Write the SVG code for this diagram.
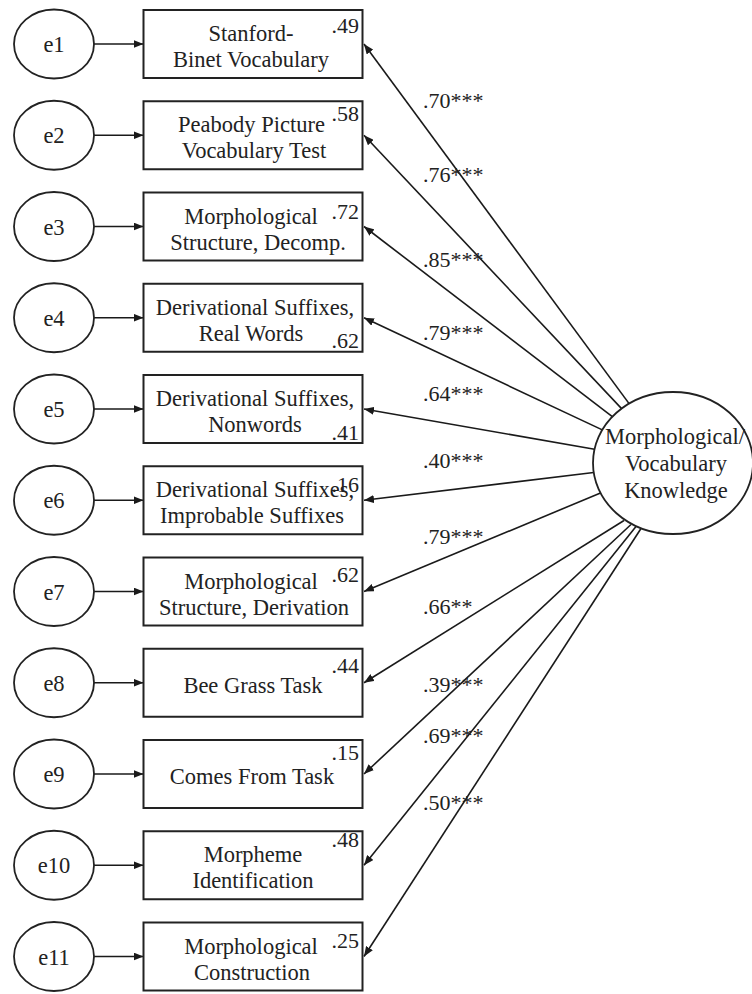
<svg xmlns="http://www.w3.org/2000/svg" width="752" height="994" viewBox="0 0 752 994">
<style>
.t{font-family:"Liberation Serif","Times New Roman",serif;font-size:22.5px;fill:#222;text-anchor:middle}
.r{font-family:"Liberation Serif","Times New Roman",serif;font-size:22px;fill:#222;text-anchor:end}
.l{font-family:"Liberation Serif","Times New Roman",serif;font-size:22px;fill:#222}
.bx{fill:#fff;stroke:#222;stroke-width:2}
.el{fill:#fff;stroke:#222;stroke-width:1.8}
.c{stroke:#1a1a1a;stroke-width:1.6;fill:none;marker-end:url(#ah)}
</style>
<defs>
<marker id="ah" viewBox="0 0 10 8" refX="10" refY="4" markerWidth="10" markerHeight="8" markerUnits="userSpaceOnUse" orient="auto"><path d="M0,0 L10,4 L0,8 z" fill="#1a1a1a"/></marker>
</defs>
<rect width="752" height="994" fill="#fff"/>
<g id="connectors">
<line class="c" x1="94" y1="44" x2="143.5" y2="44"/>
<line class="c" x1="94" y1="135.25" x2="143.5" y2="135.25"/>
<line class="c" x1="94" y1="226.5" x2="143.5" y2="226.5"/>
<line class="c" x1="94" y1="317.75" x2="143.5" y2="317.75"/>
<line class="c" x1="94" y1="409" x2="143.5" y2="409"/>
<line class="c" x1="94" y1="500.25" x2="143.5" y2="500.25"/>
<line class="c" x1="94" y1="591.5" x2="143.5" y2="591.5"/>
<line class="c" x1="94" y1="682.75" x2="143.5" y2="682.75"/>
<line class="c" x1="94" y1="774" x2="143.5" y2="774"/>
<line class="c" x1="94" y1="865.25" x2="143.5" y2="865.25"/>
<line class="c" x1="94" y1="956.5" x2="143.5" y2="956.5"/>
<line class="c" x1="629.1" y1="403.6" x2="364" y2="44"/>
<line class="c" x1="621.6" y1="408.6" x2="364" y2="135.25"/>
<line class="c" x1="612.3" y1="416.7" x2="364" y2="226.5"/>
<line class="c" x1="602.3" y1="429.9" x2="364" y2="317.75"/>
<line class="c" x1="594.5" y1="449.3" x2="364" y2="409"/>
<line class="c" x1="593.7" y1="472.5" x2="364" y2="500.25"/>
<line class="c" x1="600.5" y1="493" x2="364" y2="591.5"/>
<line class="c" x1="624" y1="520.5" x2="364" y2="682.75"/>
<line class="c" x1="631" y1="524.5" x2="364" y2="774"/>
<line class="c" x1="636" y1="526.5" x2="364" y2="865.25"/>
<line class="c" x1="641" y1="528.5" x2="364" y2="956.5"/>
</g>
<g id="loadings">
<text class="l" x="423" y="108">.70***</text>
<text class="l" x="423" y="182">.76***</text>
<text class="l" x="423" y="267">.85***</text>
<text class="l" x="423" y="340">.79***</text>
<text class="l" x="423" y="401">.64***</text>
<text class="l" x="423" y="468">.40***</text>
<text class="l" x="423" y="544">.79***</text>
<text class="l" x="423" y="614">.66**</text>
<text class="l" x="423" y="692">.39***</text>
<text class="l" x="423" y="743">.69***</text>
<text class="l" x="423" y="810">.50***</text>
</g>
<g id="e1"><ellipse class="el" cx="54" cy="44" rx="40" ry="34.5"/><text class="t" x="54" y="52">e1</text></g>
<g id="e2"><ellipse class="el" cx="54" cy="135.25" rx="40" ry="34.5"/><text class="t" x="54" y="143.25">e2</text></g>
<g id="e3"><ellipse class="el" cx="54" cy="226.5" rx="40" ry="34.5"/><text class="t" x="54" y="234.5">e3</text></g>
<g id="e4"><ellipse class="el" cx="54" cy="317.75" rx="40" ry="34.5"/><text class="t" x="54" y="325.75">e4</text></g>
<g id="e5"><ellipse class="el" cx="54" cy="409" rx="40" ry="34.5"/><text class="t" x="54" y="417">e5</text></g>
<g id="e6"><ellipse class="el" cx="54" cy="500.25" rx="40" ry="34.5"/><text class="t" x="54" y="508.25">e6</text></g>
<g id="e7"><ellipse class="el" cx="54" cy="591.5" rx="40" ry="34.5"/><text class="t" x="54" y="599.5">e7</text></g>
<g id="e8"><ellipse class="el" cx="54" cy="682.75" rx="40" ry="34.5"/><text class="t" x="54" y="690.75">e8</text></g>
<g id="e9"><ellipse class="el" cx="54" cy="774" rx="40" ry="34.5"/><text class="t" x="54" y="782">e9</text></g>
<g id="e10"><ellipse class="el" cx="54" cy="865.25" rx="40" ry="34.5"/><text class="t" x="54" y="873.25">e10</text></g>
<g id="e11"><ellipse class="el" cx="54" cy="956.5" rx="40" ry="34.5"/><text class="t" x="54" y="964.5">e11</text></g>
<g id="box1"><rect class="bx" x="143.5" y="10" width="219" height="68"/><text class="t" x="251" y="41">Stanford-</text><text class="t" x="251" y="67">Binet Vocabulary</text><text class="r" x="359" y="33">.49</text></g>
<g id="box2"><rect class="bx" x="143.5" y="101.25" width="219" height="68"/><text class="t" x="251.5" y="132.25">Peabody Picture</text><text class="t" x="254" y="158.25">Vocabulary Test</text><text class="r" x="359" y="121">.58</text></g>
<g id="box3"><rect class="bx" x="143.5" y="192.5" width="219" height="68"/><text class="t" x="251" y="223.5">Morphological</text><text class="t" x="258" y="249.5">Structure, Decomp.</text><text class="r" x="359" y="219">.72</text></g>
<g id="box4"><rect class="bx" x="143.5" y="283.75" width="219" height="68"/><text class="t" x="255" y="314.75">Derivational Suffixes,</text><text class="t" x="251" y="340.75">Real Words</text><text class="r" x="359" y="348">.62</text></g>
<g id="box5"><rect class="bx" x="143.5" y="375" width="219" height="68"/><text class="t" x="255" y="406">Derivational Suffixes,</text><text class="t" x="255" y="432">Nonwords</text><text class="r" x="359" y="440">.41</text></g>
<g id="box6"><rect class="bx" x="143.5" y="466.25" width="219" height="68"/><text class="t" x="255" y="497.25">Derivational Suffixes,</text><text class="t" x="252" y="523.25">Improbable Suffixes</text><text class="r" x="359" y="492">.16</text></g>
<g id="box7"><rect class="bx" x="143.5" y="557.5" width="219" height="68"/><text class="t" x="251" y="588.5">Morphological</text><text class="t" x="254" y="614.5">Structure, Derivation</text><text class="r" x="359" y="582">.62</text></g>
<g id="box8"><rect class="bx" x="143.5" y="648.75" width="219" height="68"/><text class="t" x="253" y="692.75">Bee Grass Task</text><text class="r" x="359" y="673">.44</text></g>
<g id="box9"><rect class="bx" x="143.5" y="740" width="219" height="68"/><text class="t" x="252" y="784">Comes From Task</text><text class="r" x="359" y="760">.15</text></g>
<g id="box10"><rect class="bx" x="143.5" y="831.25" width="219" height="68"/><text class="t" x="253" y="862.25">Morpheme</text><text class="t" x="253" y="888.25">Identification</text><text class="r" x="359" y="847">.48</text></g>
<g id="box11"><rect class="bx" x="143.5" y="922.5" width="219" height="68"/><text class="t" x="251" y="953.5">Morphological</text><text class="t" x="252" y="979.5">Construction</text><text class="r" x="359" y="948">.25</text></g>
<g id="latent"><ellipse class="el" cx="673" cy="463" rx="80" ry="71"/><text class="t" x="675" y="444">Morphological/</text><text class="t" x="676" y="471">Vocabulary</text><text class="t" x="676" y="498">Knowledge</text></g>
</svg>
